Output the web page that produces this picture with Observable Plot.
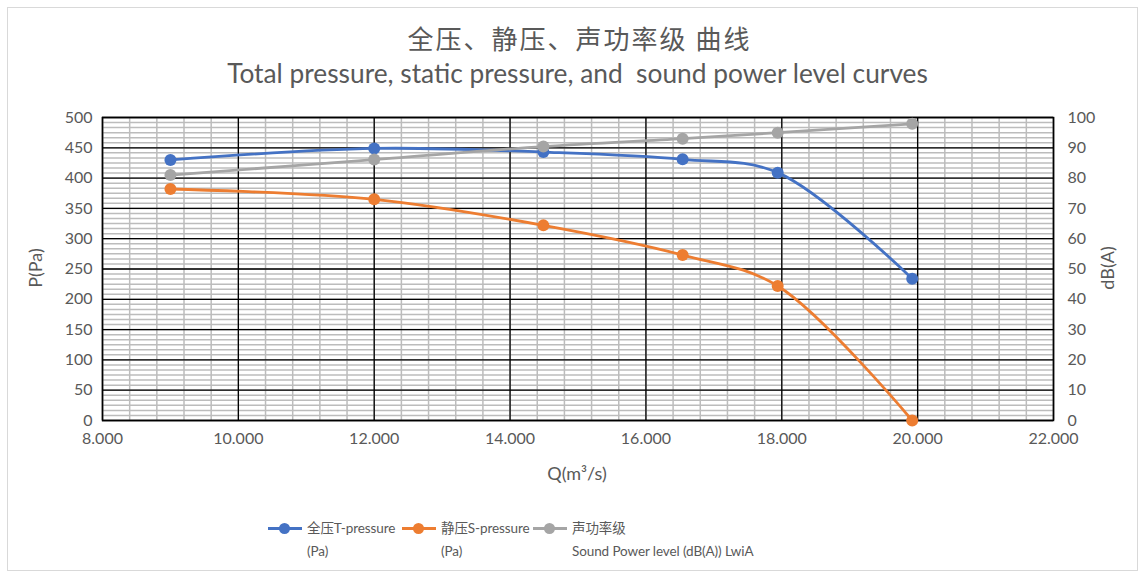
<!DOCTYPE html>
<html>
<head>
<meta charset="utf-8">
<script src="https://cdn.jsdelivr.net/npm/d3@7"></script>
<script src="https://cdn.jsdelivr.net/npm/@observablehq/plot@0.6"></script>
<style>
  html, body { margin: 0; padding: 0; background: #fff; }
  body { width: 1143px; height: 576px; position: relative; overflow: hidden;
         font-family: Lato, "Noto Sans CJK SC", sans-serif; color: #595959; }
  #border { position: absolute; left: 7px; top: 7px; width: 1129px; height: 562px; border: 1px solid #d9d9d9; }
  #chart { position: absolute; left: 0; top: 0; }
  .t { position: absolute; white-space: pre; }
  #title1 { left: 8px; width: 1143px; text-align: center; top: 19px; font-size: 26px; font-family: "Noto Sans CJK SC", sans-serif; letter-spacing: 2px; }
  #title2 { left: 6px; width: 1143px; text-align: center; top: 57px; font-size: 26.3px; }
  #ylab { left: 35px; top: 268px; font-size: 18px; transform: translate(-50%, -50%) rotate(-90deg); }
  #y2lab { left: 1107px; top: 268px; font-size: 18px; transform: translate(-50%, -50%) rotate(-90deg); }
  #xlab { left: 577px; top: 473px; font-size: 18px; transform: translate(-50%, -50%); }
  .leg { position: absolute; top: 517px; font-size: 13.5px; line-height: 23px; white-space: nowrap; letter-spacing: -0.1px; }
  .sw { position: absolute; top: 527px; width: 34px; height: 3px; }
  .sw::after { content: ""; position: absolute; left: 11px; top: -4px; width: 11px; height: 11px; border-radius: 50%; background: inherit; }
</style>
</head>
<body>
<div id="border"></div>
<div id="chart"></div>
<div class="t" id="title1"></div>
<div class="t" id="title2"></div>
<div class="t" id="ylab"></div>
<div class="t" id="y2lab"></div>
<div class="t" id="xlab"></div>
<div id="legend"></div>
<script>
// ---- data ----
const flowQ = [9.0, 12.0, 14.49, 16.54, 17.94, 19.92];
const totalPressure = [430, 449, 443, 431, 409, 234];
const staticPressure = [382, 365, 322, 273, 222, 0];
const soundPower = [81.0, 86.1, 90.4, 93.0, 95.0, 97.9];

const seriesNames = ["全压T-pressure\n(Pa)", "静压S-pressure\n(Pa)", "声功率级\nSound Power level (dB(A)) LwiA"];
const seriesColors = ["#4472C4", "#ED7D31", "#A5A5A5"];

const xTicks = [8, 10, 12, 14, 16, 18, 20, 22];
const yTicks = [0, 50, 100, 150, 200, 250, 300, 350, 400, 450, 500];
const y2Ticks = [0, 10, 20, 30, 40, 50, 60, 70, 80, 90, 100];

const titleLine1 = "全压、静压、声功率级 曲线";
const titleLine2 = "Total pressure, static pressure, and  sound power level curves";
const yLabel = "P(Pa)";
const y2Label = "dB(A)";
const xLabel = "Q(m³/s)";

// ---- derived ----
const dbScale = 5; // 100 dB(A) on right = 500 Pa on left
const rows = [];
flowQ.forEach((q, i) => {
  rows.push({q, v: totalPressure[i], s: seriesNames[0]});
  rows.push({q, v: staticPressure[i], s: seriesNames[1]});
  rows.push({q, v: soundPower[i] * dbScale, s: seriesNames[2]});
});
const minorX = d3.range(0, 36).map(i => 8 + i * 0.4);
const minorY = d3.range(0, 61).map(i => i * 50 / 6);

const chart = Plot.plot({
  width: 1143,
  height: 500,
  marginTop: 117,
  marginBottom: 80,
  marginLeft: 102,
  marginRight: 90,
  style: {fontFamily: "Lato, 'Noto Sans CJK SC', sans-serif", fontSize: "16px", color: "#595959", background: "transparent"},
  x: {domain: [8, 22]},
  y: {domain: [0, 500]},
  color: {domain: seriesNames, range: seriesColors},
  marks: [
    Plot.ruleX(minorX, {stroke: "#bcbcbc", strokeWidth: 1.5}),
    Plot.ruleY(minorY, {stroke: "#bcbcbc", strokeWidth: 1.5}),
    Plot.ruleX(xTicks, {stroke: "#000", strokeWidth: 1.3}),
    Plot.ruleY(yTicks, {stroke: "#000", strokeWidth: 1.3}),
    Plot.frame({stroke: "#000", strokeWidth: 1.5}),
    Plot.line(rows, {x: "q", y: "v", z: "s", stroke: "s", strokeWidth: 2.8, curve: "catmull-rom"}),
    Plot.dot(rows, {x: "q", y: "v", fill: "s", r: 6}),
    Plot.axisX({ticks: xTicks, tickFormat: d => d.toFixed(3), tickSize: 0, tickPadding: 12, label: null, fill: "#595959"}),
    Plot.axisY({ticks: yTicks, tickSize: 0, tickPadding: 10, label: null, fill: "#595959"}),
    Plot.axisY({anchor: "right", ticks: y2Ticks.map(d => d * dbScale), tickFormat: d => d / dbScale, tickSize: 0, tickPadding: 14, label: null, fill: "#595959"})
  ]
});
document.getElementById("chart").appendChild(chart);

document.getElementById("title1").textContent = titleLine1;
document.getElementById("title2").textContent = titleLine2;
document.getElementById("ylab").textContent = yLabel;
document.getElementById("y2lab").textContent = y2Label;
document.getElementById("xlab").textContent = xLabel;

// legend
const legendX = [268, 402, 533];
const legend = document.getElementById("legend");
seriesNames.forEach((name, i) => {
  const sw = document.createElement("div");
  sw.className = "sw";
  sw.style.left = legendX[i] + "px";
  sw.style.background = seriesColors[i];
  legend.appendChild(sw);
  const lab = document.createElement("div");
  lab.className = "leg";
  lab.style.left = (legendX[i] + 39) + "px";
  lab.innerHTML = name.split("\n").map(s => s.replace(/&/g, "&amp;").replace(/</g, "&lt;")).join("<br>");
  legend.appendChild(lab);
});
</script>
</body>
</html>
